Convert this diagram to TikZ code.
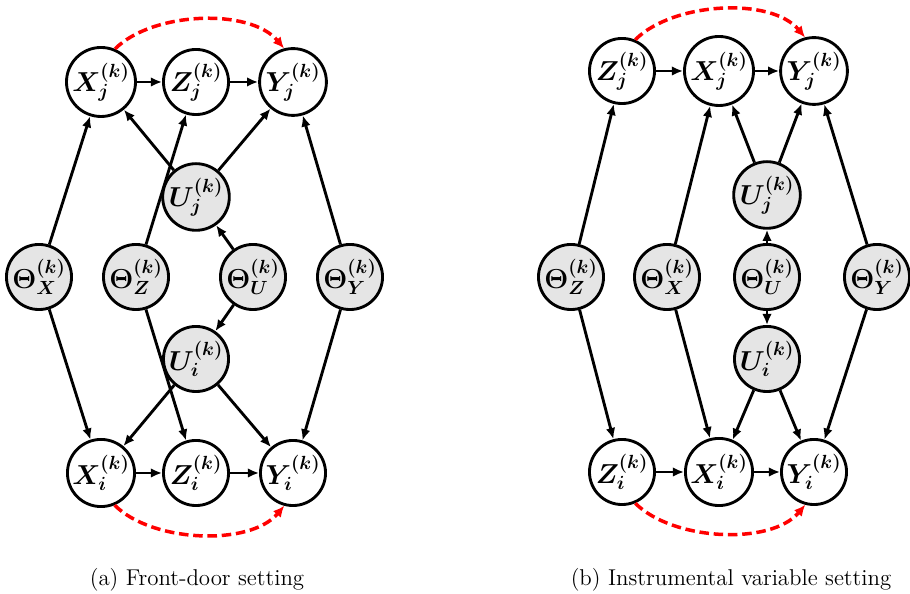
\documentclass[tikz,border=0pt]{standalone}
\usepackage{bm}
\usetikzlibrary{arrows.meta}
\tikzset{
  var/.style={circle,draw,line width=1.8pt,minimum size=41pt,inner sep=0pt,font=\LARGE},
  latent/.style={var,fill=gray!20},
  edge/.style={-{Latex[length=7pt,width=6pt]},line width=1.8pt},
  conf/.style={-{Latex[length=7pt,width=6.5pt]},red,line width=2.2pt,dash pattern=on 6pt off 3pt}
}
\begin{document}
\begin{tikzpicture}[x=0.63pt,y=0.63pt]
  \useasboundingbox (0,0) rectangle (910,594);
  % (a) front-door setting
  \node[var] (aXj) at (101,512) {$\bm{X_j^{(k)}}$};
  \node[var] (aZj) at (196,512) {$\bm{Z_j^{(k)}}$};
  \node[var] (aYj) at (293,512) {$\bm{Y_j^{(k)}}$};
  \node[latent] (aUj) at (196,397) {$\bm{U_j^{(k)}}$};
  \node[latent] (aTX) at (39,317) {$\bm{\Theta_X^{(k)}}$};
  \node[latent] (aTZ) at (136,317) {$\bm{\Theta_Z^{(k)}}$};
  \node[latent] (aTU) at (253,317) {$\bm{\Theta_U^{(k)}}$};
  \node[latent] (aTY) at (350,317) {$\bm{\Theta_Y^{(k)}}$};
  \node[latent] (aUi) at (196,235) {$\bm{U_i^{(k)}}$};
  \node[var] (aXi) at (101,121) {$\bm{X_i^{(k)}}$};
  \node[var] (aZi) at (196,121) {$\bm{Z_i^{(k)}}$};
  \node[var] (aYi) at (293,121) {$\bm{Y_i^{(k)}}$};
  \foreach \s/\t in {aXj/aZj,aZj/aYj,aXi/aZi,aZi/aYi,aTX/aXj,aTX/aXi,
      aTZ/aZj,aTZ/aZi,aTU/aUj,aTU/aUi,aUj/aXj,aUj/aYj,aUi/aXi,aUi/aYi,
      aTY/aYj,aTY/aYi}
    \draw[edge] (\s) -- (\t);
  \draw[conf] (aXj.67) to[out=45,in=130,looseness=0.8] (aYj.105);
  \draw[conf] (aXi.-67) to[out=-45,in=-130,looseness=0.8] (aYi.-105);
  \node[font=\Large] at (197,14) {(a) Front-door setting};
  % (b) instrumental variable setting
  \node[var] (bZj) at (622,523) {$\bm{Z_j^{(k)}}$};
  \node[var] (bXj) at (719,523) {$\bm{X_j^{(k)}}$};
  \node[var] (bYj) at (814,523) {$\bm{Y_j^{(k)}}$};
  \node[latent] (bUj) at (767,399) {$\bm{U_j^{(k)}}$};
  \node[latent] (bTZ) at (571,317) {$\bm{\Theta_Z^{(k)}}$};
  \node[latent] (bTX) at (667,317) {$\bm{\Theta_X^{(k)}}$};
  \node[latent] (bTU) at (767,317) {$\bm{\Theta_U^{(k)}}$};
  \node[latent] (bTY) at (877,317) {$\bm{\Theta_Y^{(k)}}$};
  \node[latent] (bUi) at (767,235) {$\bm{U_i^{(k)}}$};
  \node[var] (bZi) at (622,122) {$\bm{Z_i^{(k)}}$};
  \node[var] (bXi) at (719,122) {$\bm{X_i^{(k)}}$};
  \node[var] (bYi) at (814,122) {$\bm{Y_i^{(k)}}$};
  \foreach \s/\t in {bZj/bXj,bXj/bYj,bZi/bXi,bXi/bYi,bTZ/bZj,bTZ/bZi,
      bTX/bXj,bTX/bXi,bTU/bUj,bTU/bUi,bUj/bXj,bUj/bYj,bUi/bXi,bUi/bYi,
      bTY/bYj,bTY/bYi}
    \draw[edge] (\s) -- (\t);
  \draw[conf] (bZj.67) to[out=45,in=130,looseness=0.8] (bYj.105);
  \draw[conf] (bZi.-67) to[out=-45,in=-130,looseness=0.8] (bYi.-105);
  \node[font=\Large] at (731,14) {(b) Instrumental variable setting};
\end{tikzpicture}
\end{document}
